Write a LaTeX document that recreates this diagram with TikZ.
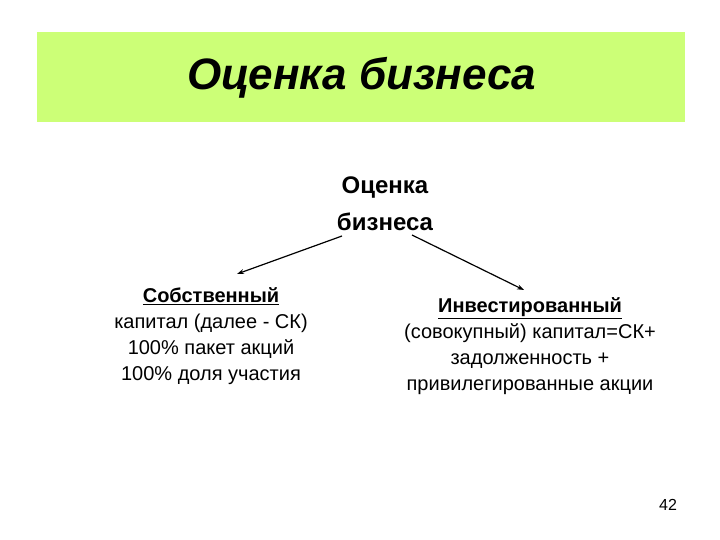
\documentclass[tikz,border=0pt]{standalone}
\usepackage{fontspec}
\setmainfont{Liberation Sans}
\usepackage{xcolor}
\usetikzlibrary{arrows.meta}
\definecolor{bandgreen}{HTML}{CCFF77}

\begin{document}
\begin{tikzpicture}[x=1pt, y=-1pt,
  txt/.style={align=center, inner sep=0pt},
  arr/.style={-{Stealth[length=7pt,width=5pt]}, line width=1.2pt}]
\useasboundingbox (0,0) rectangle (720,540);
\fill[bandgreen] (37,32) rectangle (685,122);

\node (title) at (362,78) [txt, font=\fontsize{44}{50}\selectfont\bfseries\itshape]{Оценка бизнеса};
\node (center) at (385,204) [txt, font=\fontsize{24}{37}\selectfont\bfseries]{Оценка\\бизнеса};
\node (own) at (211,336) [txt, font=\fontsize{20}{26}\selectfont]{\textbf{\underline{Собственный}}\\капитал (далее - СК)\\100\% пакет акций\\100\% доля участия};
\node (inv) at (530,346) [txt, font=\fontsize{20}{26}\selectfont]{\textbf{\underline{Инвестированный}}\\(совокупный) капитал=СК+\\задолженность +\\привилегированные акции};
\node (page) at (668,505) [txt, font=\fontsize{16}{18}\selectfont]{42};

\coordinate (l1) at (342,236);
\coordinate (l2) at (237,274);
\coordinate (r1) at (412,235);
\coordinate (r2) at (524,290);

\draw[arr] (l1) -- (l2);
\draw[arr] (r1) -- (r2);
\end{tikzpicture}
\end{document}
